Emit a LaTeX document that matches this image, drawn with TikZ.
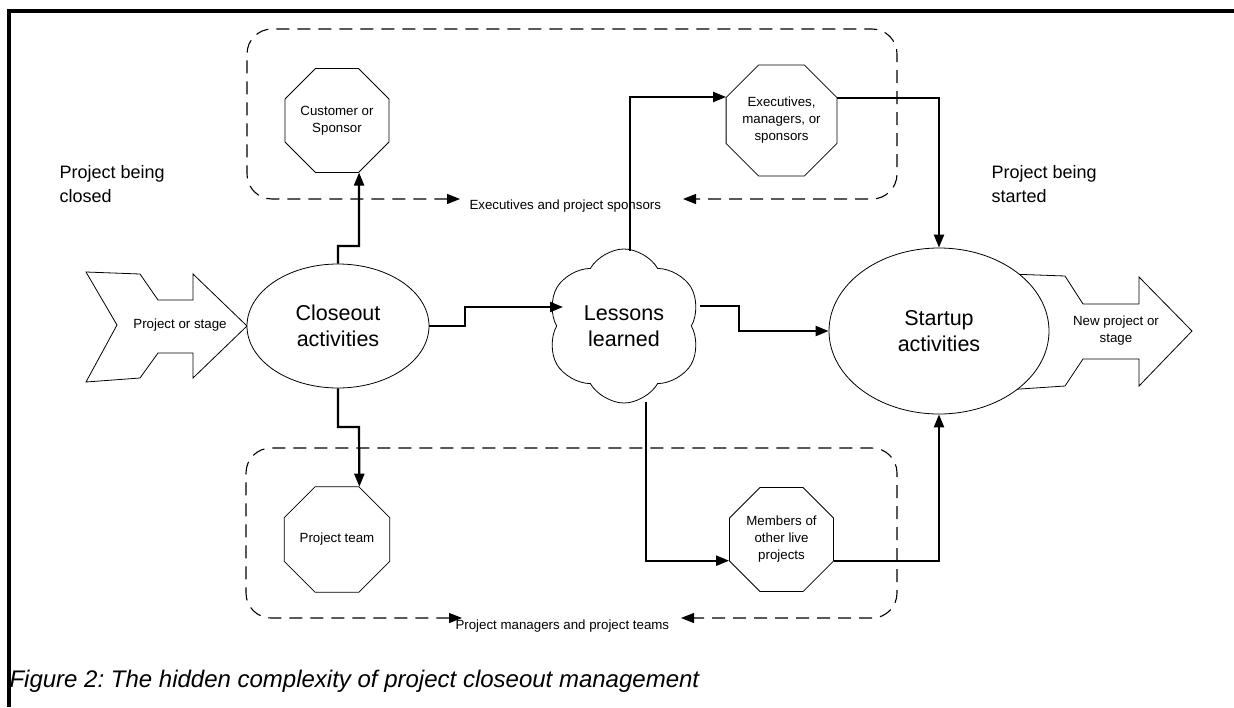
\documentclass[tikz,border=0pt]{standalone}
\usepackage{fontspec}
\setmainfont{Liberation Sans}
\usetikzlibrary{shapes.geometric,shapes.symbols,arrows.meta,calc}
\begin{document}
\begin{tikzpicture}[x=1pt,y=-1pt,
  >={Triangle[length=13pt,width=10pt]},
  small/.style={font=\fontsize{13.3}{17}\selectfont},
  big/.style={font=\fontsize{21.5}{26}\selectfont},
  side/.style={font=\fontsize{18}{24}\selectfont, align=left, anchor=west},
  oct/.style={draw, line width=0.8pt, fill=white, regular polygon, regular polygon sides=8,
    minimum size=112.6pt, inner sep=0pt, align=center, small},
  conn/.style={line width=2.2pt},
  dashbox/.style={line width=1.1pt, dash pattern=on 13pt off 8pt, rounded corners=25pt},
  shapeline/.style={line width=0.8pt},
]
\useasboundingbox (0,0) rectangle (1234,707);
% frame
\draw[line width=3.2pt] (9,707) -- (9,11) -- (1234,11);

% dashed group boxes
\draw[dashbox,<->] (460,199) -- (247,199) -- (247,29) -- (897,29) -- (897,199) -- (683,199);
\draw[dashbox,<->] (462,618) -- (246,618) -- (246,448) -- (897,448) -- (897,618) -- (681,618);
\node[small, anchor=west] (exlbl) at (466,206) {Executives and project sponsors};
\node[small, anchor=west] (pmlbl) at (452,626) {Project managers and project teams};

% side titles
\node[side] (closedlbl) at (56,184) {Project being\\closed};
\node[side] (startedlbl) at (988,184) {Project being\\started};

% left block arrow
\draw[shapeline, fill=white] (86,272) -- (140,274) -- (158,300) -- (193,300) -- (193,274) -- (247,326)
  -- (193,378) -- (193,353) -- (158,353) -- (140,378) -- (86,382) -- (117,325) -- cycle;
\node[small] (projstage) at (180,325) {Project or stage};

% right block arrow
\draw[shapeline, fill=white] (990,273.3) -- (1065,276) -- (1083,304) -- (1139,304) -- (1139,277) -- (1192,331)
  -- (1139,386) -- (1139,359) -- (1083,359) -- (1065,386) -- (990,391) -- cycle;
\node[small, align=center] (newproj) at (1116,331) {New project or\\stage};

% main nodes
\node[draw, shapeline, fill=white, ellipse, minimum width=182pt, minimum height=124pt, big, align=center, inner sep=0pt]
  (closeout) at (338,326) {Closeout\\activities};
\node[draw, shapeline, fill=white, ellipse, minimum width=220pt, minimum height=166pt, big, align=center, inner sep=0pt]
  (startup) at (939,331) {Startup\\activities};
\node[draw, shapeline, fill=white, cloud, cloud puffs=6, cloud puff arc=120, aspect=1,
  minimum width=155pt, minimum height=154pt, big, align=center, inner sep=0pt]
  (lessons) at (624,326) {Lessons\\learned};

\node[oct] (cust) at (337,120.5) {Customer or\\Sponsor};
\node[oct] (exec) at (781.5,120.5) {Executives,\\managers, or\\sponsors};
\node[oct] (team) at (337,539.5) {Project team};
\node[oct] (members) at (781.5,539.5) {Members of\\other live\\projects};

% connectors
\draw[conn,->] (closeout.north) |- (359,246) -- (cust.-67.5);
\draw[conn,->] (closeout.south) |- (359,427) -- (team.67.5);
\draw[conn,->] (closeout.east) -| (465,307) -- ($(lessons.center)+(-61,-19)$);
\draw[conn,->] ($(lessons.center)+(76,-20)$) -| (739,331) -- (startup.west);
\draw[conn,->] ($(lessons.center)+(6,-75)$) |- (exec.157.5);
\draw[conn,->] ($(lessons.center)+(22,76)$) |- (members.202.5);
\draw[conn,->] (exec.22.5) -| (startup.north);
\draw[conn,->] (members.-22.5) -| (startup.south);

% caption
\node[font=\fontsize{24}{28}\selectfont\itshape, anchor=west] (caption) at (6,681)
  {\frenchspacing Figure 2: The hidden complexity of project closeout management};
\end{tikzpicture}
\end{document}
